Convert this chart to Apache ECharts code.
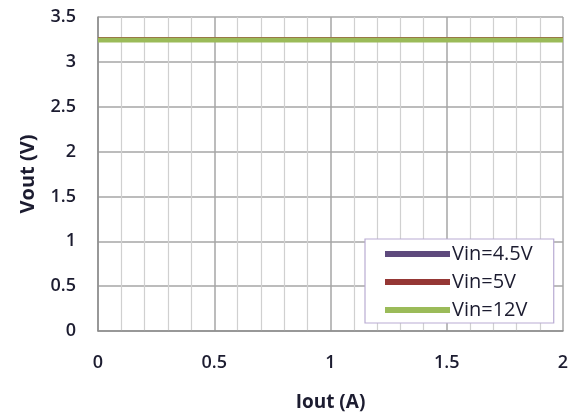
<!DOCTYPE html>
<html>
<head>
<meta charset="utf-8">
<script src="https://cdn.jsdelivr.net/npm/echarts@6/dist/echarts.min.js"></script>
<style>
  html, body { margin: 0; padding: 0; background: #fff; }
  #chart { width: 572px; height: 417px; }
</style>
</head>
<body>
<div id="chart"></div>
<script>
// Output voltage vs. load current for three input voltages
const iout = [0, 0.25, 0.5, 0.75, 1, 1.25, 1.5, 1.75, 2];
const vin45 = [3.25, 3.25, 3.25, 3.25, 3.25, 3.25, 3.25, 3.25, 3.25];
const vin5  = [3.25, 3.25, 3.25, 3.25, 3.25, 3.25, 3.25, 3.25, 3.25];
const vin12 = [3.245, 3.245, 3.245, 3.245, 3.245, 3.245, 3.245, 3.245, 3.245];
const seriesNames = ['Vin=4.5V', 'Vin=5V', 'Vin=12V'];
const seriesColors = ['#5e4a7d', '#953735', '#9bbb59'];

const pairs = (ys) => iout.map((x, i) => [x, ys[i]]);
const font = 'Open Sans';
const textColor = '#1c1c30';

const chart = echarts.init(document.getElementById('chart'));
chart.setOption({
  animation: false,
  textStyle: { fontFamily: font },
  grid: { left: 98, right: 9, top: 17, bottom: 84 },
  xAxis: {
    type: 'value', min: 0, max: 2, interval: 0.5,
    name: 'Iout (A)', nameLocation: 'middle', nameGap: 62,
    nameTextStyle: { fontSize: 19, fontWeight: 'bold', color: textColor, fontFamily: font },
    axisLine: { show: true, lineStyle: { color: '#8c8c8c', width: 1.5 } },
    axisTick: { show: false },
    axisLabel: { fontSize: 18, fontWeight: 600, color: textColor, margin: 23 },
    splitLine: { show: true, lineStyle: { color: '#a6a6a6', width: 1.5 } },
    minorTick: { show: false, splitNumber: 5 },
    minorSplitLine: { show: true, lineStyle: { color: '#d0d0d0', width: 1.2 } }
  },
  yAxis: {
    type: 'value', min: 0, max: 3.5, interval: 0.5,
    name: 'Vout (V)', nameLocation: 'middle', nameGap: 60, nameRotate: 90,
    nameTextStyle: { fontSize: 20, fontWeight: 'bold', color: textColor, fontFamily: font },
    axisLine: { show: true, lineStyle: { color: '#8c8c8c', width: 1.5 } },
    axisTick: { show: false },
    axisLabel: { fontSize: 18, fontWeight: 600, color: textColor, margin: 22 },
    splitLine: { show: true, lineStyle: { color: '#a6a6a6', width: 1.5 } }
  },
  legend: {
    orient: 'vertical',
    left: 365, top: 239,
    width: 189,
    padding: [5, 21, 3, 20],
    itemGap: 8,
    itemWidth: 65, itemHeight: 6,
    icon: 'rect',
    backgroundColor: '#fff',
    borderColor: '#b9acd3', borderWidth: 1.2,
    textStyle: { fontSize: 20, color: textColor, padding: [0, 0, 0, -3] },
    data: seriesNames
  },
  series: [
    { name: seriesNames[0], type: 'line', data: pairs(vin45), symbol: 'none',
      color: seriesColors[0], lineStyle: { width: 5, color: seriesColors[0] } },
    { name: seriesNames[1], type: 'line', data: pairs(vin5), symbol: 'none',
      color: seriesColors[1], lineStyle: { width: 5, color: seriesColors[1] } },
    { name: seriesNames[2], type: 'line', data: pairs(vin12), symbol: 'none',
      color: seriesColors[2], lineStyle: { width: 5, color: seriesColors[2] } }
  ]
});
</script>
</body>
</html>
